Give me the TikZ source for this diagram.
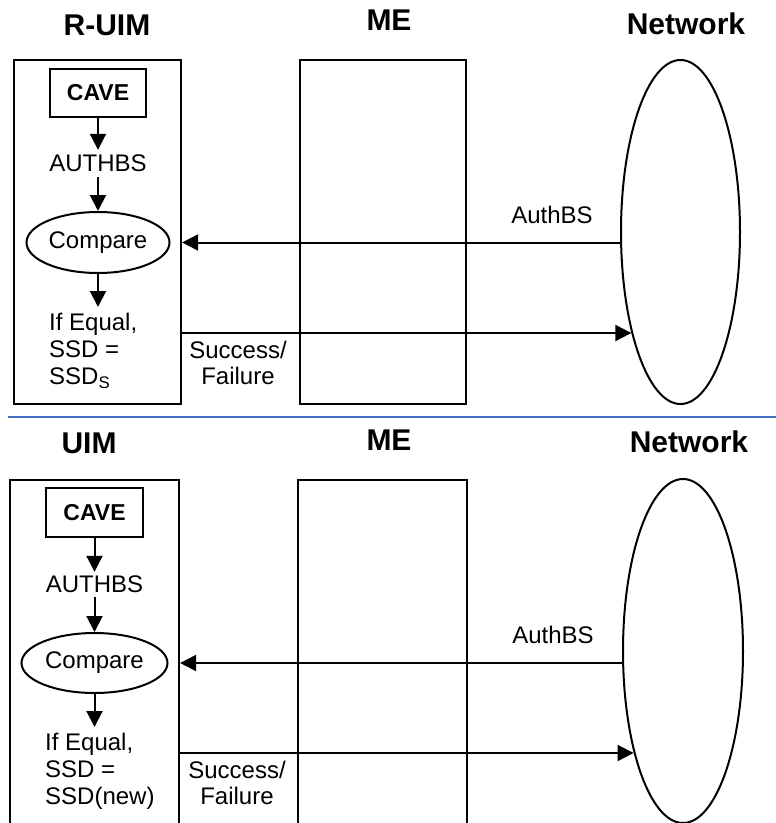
\documentclass[tikz,border=0pt]{standalone}
\usepackage{fontspec}
\setmainfont{Liberation Sans}
\usepackage{tikz}
\usetikzlibrary{shapes.geometric, arrows.meta, positioning}
\definecolor{rulesblue}{RGB}{68, 114, 196}

\begin{document}
\begin{tikzpicture}[x=1pt, y=-1pt,
    title/.style={font=\fontsize{30}{32}\selectfont\bfseries, inner sep=0pt},
    lbl/.style={font=\fontsize{24}{27}\selectfont, inner sep=0pt},
    lane/.style={draw, line width=2.2pt, inner sep=0pt},
    cavebox/.style={draw, line width=2.2pt, minimum width=96pt, minimum height=48pt, inner sep=0pt, font=\fontsize{23}{25}\selectfont\bfseries},
    cmpnode/.style={draw, ellipse, line width=2pt, minimum height=61pt, inner sep=0pt, font=\fontsize{24}{27}\selectfont},
    netnode/.style={draw, ellipse, line width=2pt, minimum width=119pt, minimum height=344pt, inner sep=0pt},
    flow/.style={line width=2pt, -{Triangle[length=16pt, width=16pt]}}]
    \clip (0,0) rectangle (776,823);

    % Titles (R-UIM case)
    \node[title] (ruimtitle) at (107,25) {R-UIM};
    \node[title] (metitle1) at (389,20) {ME};
    \node[title] (nettitle1) at (686,24) {Network};

    % Columns
    \node[lane, minimum width=167pt, minimum height=344pt] (uim1) at (97.5,232) {};
    \node[lane, minimum width=166pt, minimum height=344pt] (me1) at (383,232) {};
    \node[netnode] (net1) at (680.5,232) {};

    % R-UIM steps
    \node[cavebox] (cave1) at (98,93) {CAVE};
    \node[lbl, inner ysep=5pt] (authbs1) at (98,163.5) {AUTHBS};
    \node[cmpnode, minimum width=143pt] (cmp1) at (98,242.5) {Compare};
    \node[lbl, inner ysep=6pt, align=left, anchor=north west] (ifeq1) at (49,307) {If Equal,\\SSD =\\SSD\textsubscript{S}};
    \draw[flow] (cave1) -- (authbs1);
    \draw[flow] (authbs1) -- (cmp1);
    \draw[flow] (cmp1) -- (cmp1 |- ifeq1.north);

    % Messages
    \node[lbl] (authlbl1) at (552,215) {AuthBS};
    \draw[flow] (cmp1 -| net1.west) -- (cmp1 -| uim1.east);
    \coordinate (sf1) at (181,333);
    \draw[flow] (sf1) -- (sf1 -| net1.244.5);
    \node[lbl, align=center, anchor=north, font=\fontsize{24}{26}\selectfont] (res1) at (238,341) {Success/\\Failure};

    % Divider
    \draw[rulesblue, line width=2.2pt] (8,417) -- (776,417);

    % Titles (UIM case)
    \node[title] (uimtitle) at (89,443) {UIM};
    \node[title] (metitle2) at (389,440) {ME};
    \node[title] (nettitle2) at (689,442) {Network};

    % Columns
    \node[lane, minimum width=169pt, minimum height=350pt] (uim2) at (94.5,655) {};
    \node[lane, minimum width=169pt, minimum height=350pt] (me2) at (382.5,655) {};
    \node[netnode, minimum width=120pt] (net2) at (683,651) {};

    % UIM steps
    \node[cavebox, minimum width=97pt, minimum height=49pt] (cave2) at (94.5,512.5) {CAVE};
    \node[lbl, inner ysep=4pt] (authbs2) at (94.5,584.5) {AUTHBS};
    \node[cmpnode, minimum width=146pt, minimum height=60pt] (cmp2) at (94.5,663) {Compare};
    \node[lbl, inner ysep=6pt, align=left, anchor=north west] (ifeq2) at (45,727) {If Equal,\\SSD =\\SSD(new)};
    \draw[flow] (cave2) -- (authbs2);
    \draw[flow] (authbs2) -- (cmp2);
    \draw[flow] (cmp2) -- (cmp2 |- ifeq2.north);

    % Messages
    \node[lbl] (authlbl2) at (553,635) {AuthBS};
    \draw[flow] (cmp2 -| net2.west) -- (cmp2 -| uim2.east);
    \coordinate (sf2) at (179,753);
    \draw[flow] (sf2) -- (sf2 -| net2.244.7);
    \node[lbl, align=center, anchor=north, font=\fontsize{24}{26}\selectfont] (res2) at (237,761) {Success/\\Failure};
\end{tikzpicture}
\end{document}
